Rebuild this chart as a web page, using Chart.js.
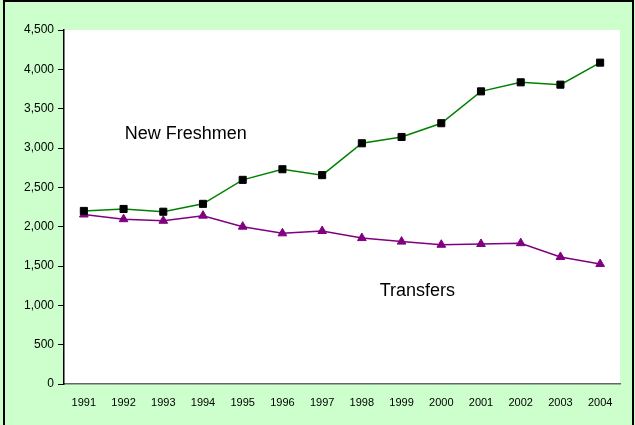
<!DOCTYPE html>
<html>
<head>
<meta charset="utf-8">
<script src="https://cdn.jsdelivr.net/npm/chart.js@4"></script>
<style>
  html, body { margin: 0; padding: 0; background: #fff; }
  #wrap { width: 635px; height: 425px; }
</style>
</head>
<body>
<div id="wrap"><canvas id="enrollChart" width="635" height="425"></canvas></div>
<script>
/* ---- data ---- */
const years = ["1991","1992","1993","1994","1995","1996","1997","1998","1999","2000","2001","2002","2003","2004"];
const freshmen = [2200, 2225, 2190, 2290, 2595, 2730, 2655, 3060, 3140, 3315, 3720, 3835, 3805, 4085];
const transfers = [2155, 2095, 2075, 2140, 2000, 1915, 1945, 1855, 1810, 1770, 1780, 1790, 1615, 1525];
const yTicks = [0, 500, 1000, 1500, 2000, 2500, 3000, 3500, 4000, 4500];

// in-plot series labels, anchored at (category index, value)
const seriesLabels = [
  { text: "New Freshmen", at: [1.03, 3180] },
  { text: "Transfers", at: [7.45, 1180] },
];

const BG = "#CCFFCC";

/* ---- background, frame and in-plot labels ---- */
const framePlugin = {
  id: "frame",
  beforeDraw(chart) {
    const { ctx, chartArea: a } = chart;
    ctx.save();
    ctx.fillStyle = BG;
    ctx.fillRect(0, 0, chart.width, chart.height);
    ctx.fillStyle = "#fff";
    ctx.fillRect(a.left, a.top, a.right - a.left, a.bottom - a.top);
    ctx.strokeStyle = "#000";
    ctx.lineWidth = 2;
    ctx.strokeRect(4, 1, 629, 430);
    ctx.restore();
  },
  afterDatasetsDraw(chart) {
    const { ctx, scales } = chart;
    ctx.save();
    ctx.fillStyle = "#000";
    ctx.font = "18px 'Liberation Sans', Arial, sans-serif";
    ctx.textAlign = "left";
    ctx.textBaseline = "middle";
    seriesLabels.forEach((l) => {
      ctx.fillText(l.text, scales.x.getPixelForValue(l.at[0]), scales.y.getPixelForValue(l.at[1]));
    });
    ctx.restore();
  },
};

const xFont = { family: "'Liberation Sans', Arial, sans-serif", size: 11 };
const yFont = { family: "'Liberation Sans', Arial, sans-serif", size: 12 };

new Chart(document.getElementById("enrollChart"), {
  type: "line",
  data: {
    labels: years,
    datasets: [
      {
        label: "New Freshmen",
        data: freshmen,
        borderColor: "#008000",
        borderWidth: 1.5,
        pointStyle: "rect",
        pointRadius: 5,
        pointBackgroundColor: "#000",
        pointBorderColor: "#000",
        pointBorderWidth: 1,
        tension: 0,
      },
      {
        label: "Transfers",
        data: transfers,
        borderColor: "#800080",
        borderWidth: 1.5,
        pointStyle: "triangle",
        pointRadius: 5,
        pointBackgroundColor: "#800080",
        pointBorderColor: "#800080",
        pointBorderWidth: 1,
        tension: 0,
      },
    ],
  },
  options: {
    responsive: false,
    animation: false,
    layout: { padding: { left: 4, top: 30, right: 15, bottom: 0 } },
    plugins: {
      legend: { display: false },
      tooltip: { enabled: false },
    },
    scales: {
      x: {
        offset: true,
        grid: { display: false, drawTicks: false },
        border: { display: true, color: "#666", width: 1.5 },
        ticks: { color: "#000", font: xFont, padding: 12, maxRotation: 0, autoSkip: false },
        afterFit: (s) => { s.height = 41; },
      },
      y: {
        min: 0,
        max: 4500,
        afterBuildTicks: (s) => { s.ticks = yTicks.map((v) => ({ value: v })); },
        grid: { drawOnChartArea: false, drawTicks: true, tickLength: 6, color: "#000" },
        border: { display: true, color: "#000", width: 1.5 },
        ticks: {
          color: "#000",
          font: yFont,
          padding: 4,
          callback: (v) => v.toLocaleString("en-US"),
        },
        afterFit: (s) => { s.width = 60; },
      },
    },
  },
  plugins: [framePlugin],
});
</script>
</body>
</html>
